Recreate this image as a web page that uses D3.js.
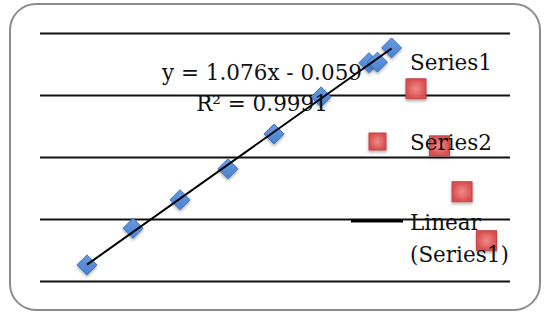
<!DOCTYPE html>
<html>
<head>
<meta charset="utf-8">
<script src="https://cdn.jsdelivr.net/npm/d3@7"></script>
<style>
  body { margin: 0; background: #fff; }
  svg { display: block; }
  text { font-family: "DejaVu Serif", "Liberation Serif", serif; fill: #111; }
</style>
</head>
<body>
<script>
let width = 550;
let height = 315;

// Series1 (blue diamonds)
let s1x = [0.30, 0.79, 1.29, 1.80, 2.29, 2.79, 3.30, 3.39, 3.54];
let s1y = [0.26, 0.85, 1.31, 1.81, 2.37, 2.97, 3.52, 3.53, 3.76];
// Series2 (red squares)
let s2x = [3.80, 4.05, 4.29, 4.55];
let s2y = [3.10, 2.18, 1.44, 0.65];
// gridline values
let yTicks = [0, 1, 2, 3, 4];
// linear trendline
let slope = 1.076;
let intercept = -0.059;
let eqLines = ["y = 1.076x - 0.059", "R² = 0.9991"];
let legendLabels = ["Series1", "Series2", "Linear", "(Series1)"];

let svg = d3.select("body").append("svg")
            .attr("width", width)
            .attr("height", height);

let x = d3.scaleLinear().domain([-0.2, 4.8]).range([40, 510]);
let y = d3.scaleLinear().domain([0, 4]).range([281, 33]);

let defs = svg.append("defs");
let shadow = defs.append("filter").attr("id", "shadow")
                 .attr("x", "-50%").attr("y", "-50%")
                 .attr("width", "200%").attr("height", "200%");
shadow.append("feDropShadow")
      .attr("dx", 0).attr("dy", 2)
      .attr("stdDeviation", 1.5)
      .attr("flood-color", "#000")
      .attr("flood-opacity", 0.3);

let redGrad = defs.append("radialGradient").attr("id", "redGrad");
redGrad.append("stop").attr("offset", "0%").attr("stop-color", "#f08a8a");
redGrad.append("stop").attr("offset", "100%").attr("stop-color", "#d94f4f");

let blueGrad = defs.append("linearGradient").attr("id", "blueGrad")
                   .attr("x1", 0).attr("y1", 0).attr("x2", 0).attr("y2", 1);
blueGrad.append("stop").attr("offset", "0%").attr("stop-color", "#6a9be0");
blueGrad.append("stop").attr("offset", "100%").attr("stop-color", "#4a80d0");

// chart frame
svg.append("rect")
   .attr("x", 10).attr("y", 4)
   .attr("width", 530).attr("height", 306)
   .attr("rx", 26).attr("ry", 26)
   .attr("fill", "#fff")
   .attr("stroke", "#8c8c8c")
   .attr("stroke-width", 2);

// gridlines via axis
let grid = svg.append("g")
              .attr("transform", "translate(40,0)")
              .call(d3.axisLeft(y).tickValues(yTicks).tickSize(-470).tickFormat(""));
grid.select(".domain").remove();
grid.selectAll(".tick line")
    .attr("stroke", "#111")
    .attr("stroke-width", 2);

// Series2 squares
let sq = 20;
svg.append("g").selectAll("rect")
   .data(d3.zip(s2x, s2y))
   .enter().append("rect")
   .attr("x", function (d) { return x(d[0]) - sq / 2; })
   .attr("y", function (d) { return y(d[1]) - sq / 2; })
   .attr("width", sq).attr("height", sq)
   .attr("fill", "url(#redGrad)")
   .attr("stroke", "#c04545")
   .attr("stroke-width", 1)
   .attr("filter", "url(#shadow)");

// Series1 diamonds
let dsz = 10;
svg.append("g").selectAll("path")
   .data(d3.zip(s1x, s1y))
   .enter().append("path")
   .attr("transform", function (d) { return "translate(" + x(d[0]) + "," + y(d[1]) + ")"; })
   .attr("d", "M0,-" + dsz + "L" + dsz + ",0L0," + dsz + "L-" + dsz + ",0Z")
   .attr("fill", "url(#blueGrad)")
   .attr("stroke", "#3b6fbf")
   .attr("stroke-width", 1)
   .attr("filter", "url(#shadow)");

// trendline
let x0 = d3.min(s1x), x1 = d3.max(s1x);
svg.append("line")
   .attr("x1", x(x0)).attr("y1", y(slope * x0 + intercept))
   .attr("x2", x(x1)).attr("y2", y(slope * x1 + intercept))
   .attr("stroke", "#000")
   .attr("stroke-width", 2);

// equation label
svg.append("g").selectAll("text")
   .data(eqLines)
   .enter().append("text")
   .attr("x", 262)
   .attr("y", function (d, i) { return 80 + i * 31; })
   .attr("text-anchor", "middle")
   .attr("font-size", "21.5px")
   .text(function (d) { return d; });

// legend
svg.append("rect")
   .attr("x", 369).attr("y", 133)
   .attr("width", 17).attr("height", 17)
   .attr("fill", "url(#redGrad)")
   .attr("stroke", "#c04545")
   .attr("filter", "url(#shadow)");
svg.append("line")
   .attr("x1", 351).attr("x2", 403)
   .attr("y1", 221).attr("y2", 221)
   .attr("stroke", "#000")
   .attr("stroke-width", 3);

let legendY = [70, 150, 230, 262];
svg.append("g").selectAll("text")
   .data(legendLabels)
   .enter().append("text")
   .attr("x", 410)
   .attr("y", function (d, i) { return legendY[i]; })
   .attr("font-size", "21.5px")
   .text(function (d) { return d; });
</script>
</body>
</html>
